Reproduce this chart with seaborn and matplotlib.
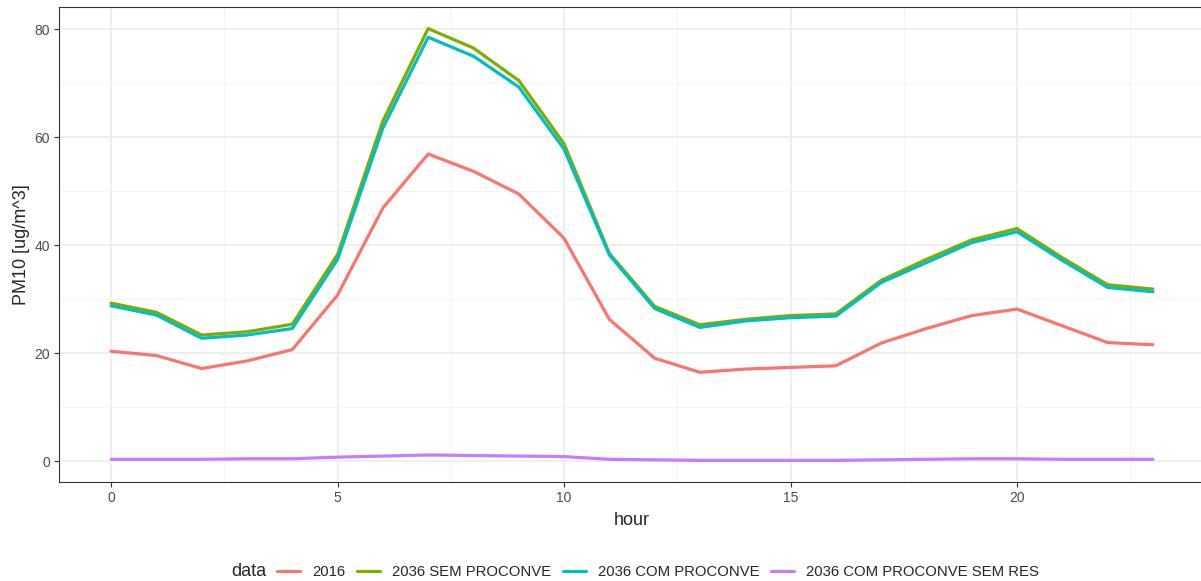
import numpy as np
import pandas as pd
import seaborn as sb
import matplotlib.pyplot as plt
from matplotlib.lines import Line2D

# hourly PM10 values
hours = list(range(24))
pm_2016 = [20.4, 19.6, 17.2, 18.6, 20.7, 30.8, 46.9, 56.9, 53.7, 49.5, 41.3, 26.3,
           19.1, 16.5, 17.1, 17.4, 17.7, 21.9, 24.6, 27.0, 28.2, 25.1, 22.0, 21.6]
pm_sem = [29.3, 27.6, 23.4, 24.0, 25.4, 38.3, 63.0, 80.1, 76.5, 70.5, 58.8, 38.5,
          28.7, 25.3, 26.3, 27.0, 27.3, 33.5, 37.4, 41.0, 43.1, 37.7, 32.7, 31.9]
pm_com = [28.8, 27.1, 22.8, 23.4, 24.6, 37.4, 61.7, 78.5, 75.0, 69.3, 57.8, 38.2,
          28.3, 24.8, 26.0, 26.6, 26.9, 33.1, 36.8, 40.5, 42.5, 37.2, 32.2, 31.4]
pm_res = [0.4, 0.4, 0.4, 0.5, 0.5, 0.8, 1.0, 1.2, 1.1, 1.0, 0.9, 0.4,
          0.3, 0.2, 0.2, 0.2, 0.2, 0.3, 0.4, 0.5, 0.5, 0.4, 0.4, 0.4]
series_names = ['2016', '2036 SEM PROCONVE', '2036 COM PROCONVE', '2036 COM PROCONVE SEM RES']
colors = ['#F8766D', '#7CAE00', '#00BFC4', '#C77CFF']

frames = []
for name, vals in zip(series_names, [pm_2016, pm_sem, pm_com, pm_res]):
    frames.append(pd.DataFrame({'hour': hours, 'PM10': vals, 'data': name}))
df = pd.concat(frames, ignore_index=True)

sb.set_style('white')
plt.rcParams['font.family'] = ['Liberation Sans', 'DejaVu Sans']

W, H = 1201, 581
fig = plt.figure(figsize=(W / 100, H / 100), dpi=100)
# panel runs a little past the right edge of the picture, as in the reference
ax = fig.add_axes([59 / W, 1 - 482 / H, (1205 - 59) / W, (482 - 7) / H])

sb.lineplot(data=df, x='hour', y='PM10', hue='data', hue_order=series_names,
            palette=colors, linewidth=2.3, ax=ax, legend=False)

ax.set_xlim(-1.15, 24.15)
ax.set_ylim(-3.8, 84.1)
ax.set_xticks([0, 5, 10, 15, 20])
ax.set_yticks([0, 20, 40, 60, 80])
ax.set_xticks([2.5, 7.5, 12.5, 17.5, 22.5], minor=True)
ax.set_yticks([10, 30, 50, 70], minor=True)
ax.grid(which='major', color='#EBEBEB', linewidth=1.1)
ax.grid(which='minor', color='#F3F3F3', linewidth=0.6)
ax.set_axisbelow(True)
for s in ax.spines.values():
    s.set_color('#333333')
    s.set_linewidth(0.8)
ax.tick_params(which='major', direction='out', length=3.5, width=0.8, color='#333333',
               labelsize=10, labelcolor='#4D4D4D', pad=3,
               bottom=True, left=True)
ax.tick_params(which='minor', length=0)
ax.set_xlabel('hour', fontsize=13, labelpad=5)
ax.set_ylabel('PM10 [ug/m^3]', fontsize=13, labelpad=3)

handles = [Line2D([], [], color=c, linewidth=2.3) for c in colors]
fig.text(231 / W, 1 - 572 / H, 'data', fontsize=13, va='center', ha='left')
fig.legend(handles, series_names, loc='center left', bbox_to_anchor=(277 / W, 1 - 572 / H),
           ncol=4, frameon=False, fontsize=10.7, handlelength=1.55, handletextpad=0.8,
           columnspacing=0.8, borderaxespad=0, borderpad=0)

fig.savefig('out.png', dpi=100)
